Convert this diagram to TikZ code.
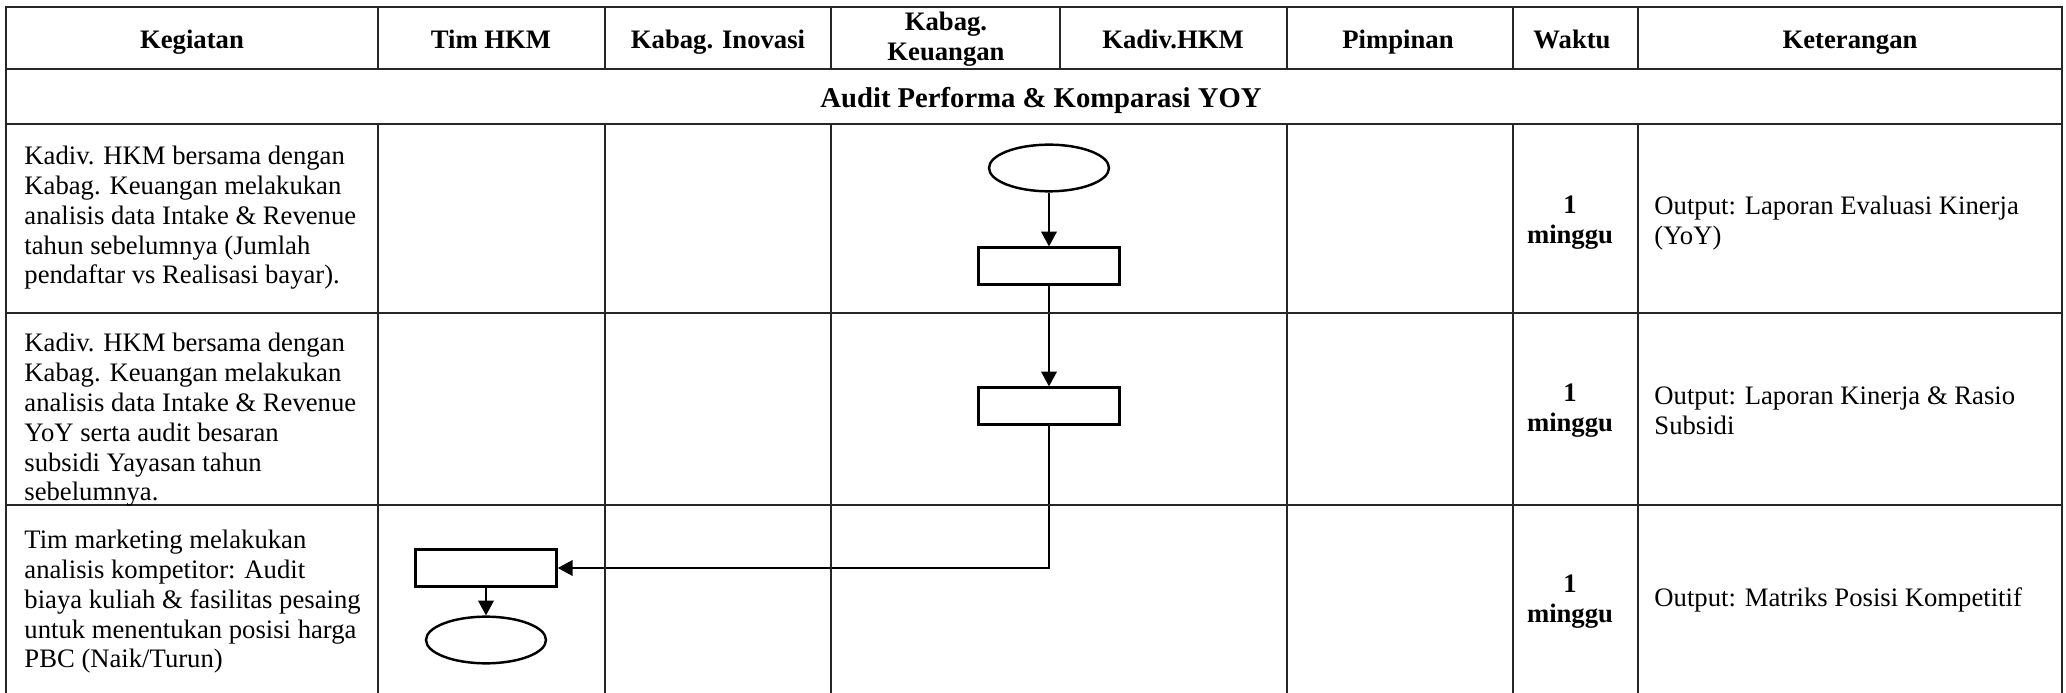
\documentclass[tikz,border=0pt]{standalone}
\usepackage{fontspec}
\setmainfont{Liberation Serif}
\usepackage{tikz}
\usetikzlibrary{arrows.meta}
\usetikzlibrary{shapes.geometric}
\pgfdeclarelayer{edgelayer}
\pgfdeclarelayer{nodelayer}
\pgfsetlayers{edgelayer,nodelayer,main}
\newcommand{\cellfont}{\fontsize{12}{13.4}\selectfont}
\tikzstyle{terminal}=[ellipse,fill=white,draw=black,line width=1.1pt,minimum width=54pt,minimum height=21pt,inner sep=0pt]
\tikzstyle{process}=[rectangle,fill=white,draw=black,line width=1.1pt,minimum width=63.5pt,minimum height=16.5pt,inner sep=0pt]
\tikzstyle{transition}=[-{Triangle[length=6.7pt,width=7pt]},draw=black,line width=0.9pt]
\tikzstyle{grid_line}=[draw=black!85,line width=0.8pt]
\tikzstyle{head_text}=[font=\cellfont\bfseries,align=center,anchor=base,inner sep=0pt]
\tikzstyle{cell_text}=[font=\cellfont,align=left,anchor=west,inner sep=0pt]
\tikzstyle{time_text}=[font=\cellfont\bfseries,align=center,inner sep=0pt]

\begin{document}
\begin{tikzpicture}[x=0.45pt,y=-0.45pt]
	\useasboundingbox (0,0) rectangle (2066,693);
	% table
	\draw [style=grid_line] (6,693) -- (6,7) -- (2062,7) -- (2062,693);
	\foreach \y in {69,124,313,505}
		\draw [style=grid_line] (6,\y) -- (2062,\y);
	\foreach \x in {378,605,831,1060,1287,1513,1638}
		\draw [style=grid_line] (\x,7) -- (\x,69);
	\foreach \x in {378,605,831,1287,1513,1638}
		\draw [style=grid_line] (\x,124) -- (\x,693);
	% header
	\node [style=head_text] (h0) at (192,49) {Kegiatan};
	\node [style=head_text] (h1) at (491,49) {Tim HKM};
	\node [style=head_text] (h2) at (718,49) {Kabag. Inovasi};
	\node [style=head_text, anchor=center] (h3) at (946,39) {Kabag.\\Keuangan};
	\node [style=head_text] (h4) at (1173,49) {Kadiv.HKM};
	\node [style=head_text] (h5) at (1398,49) {Pimpinan};
	\node [style=head_text] (h6) at (1572,49) {Waktu};
	\node [style=head_text] (h7) at (1850,49) {Keterangan};
	\node [style=head_text, font=\fontsize{12.9}{14}\selectfont\bfseries] (h8) at (1041,108) {Audit Performa \& Komparasi YOY};
	% kegiatan
	\node [style=cell_text] (k1) at (24,218) {Kadiv. HKM bersama dengan\\Kabag. Keuangan melakukan\\analisis data Intake \& Revenue\\tahun sebelumnya (Jumlah\\pendaftar vs Realisasi bayar).};
	\node [style=cell_text] (k2) at (24,420) {Kadiv. HKM bersama dengan\\Kabag. Keuangan melakukan\\analisis data Intake \& Revenue\\YoY serta audit besaran\\subsidi Yayasan tahun\\sebelumnya.};
	\node [style=cell_text] (k3) at (24,602) {Tim marketing melakukan\\analisis kompetitor: Audit\\biaya kuliah \& fasilitas pesaing\\untuk menentukan posisi harga\\PBC (Naik/Turun)};
	% waktu
	\node [style=time_text] (w1) at (1570,223) {1\\minggu};
	\node [style=time_text] (w2) at (1570,411) {1\\minggu};
	\node [style=time_text] (w3) at (1570,602) {1\\minggu};
	% keterangan
	\node [style=cell_text] (o1) at (1654,223) {Output: Laporan Evaluasi Kinerja\\(YoY)};
	\node [style=cell_text] (o2) at (1654,411) {Output: Laporan Kinerja \& Rasio\\Subsidi};
	\node [style=cell_text] (o3) at (1654,600) {Output: Matriks Posisi Kompetitif};
	\begin{pgfonlayer}{nodelayer}
		\node [style=terminal] (0) at (1049,168) {};
		\node [style=process] (1) at (1049,266) {};
		\node [style=process] (2) at (1049,406) {};
		\node [style=process] (3) at (486,568) {};
		\node [style=terminal] (4) at (486,640) {};
	\end{pgfonlayer}
	\begin{pgfonlayer}{edgelayer}
		\draw [style=transition] (0) to (1);
		\draw [style=transition] (1) to (2);
		\draw [style=transition] (2) |- (3);
		\draw [style=transition] (3) to (4);
	\end{pgfonlayer}
\end{tikzpicture}
\end{document}
